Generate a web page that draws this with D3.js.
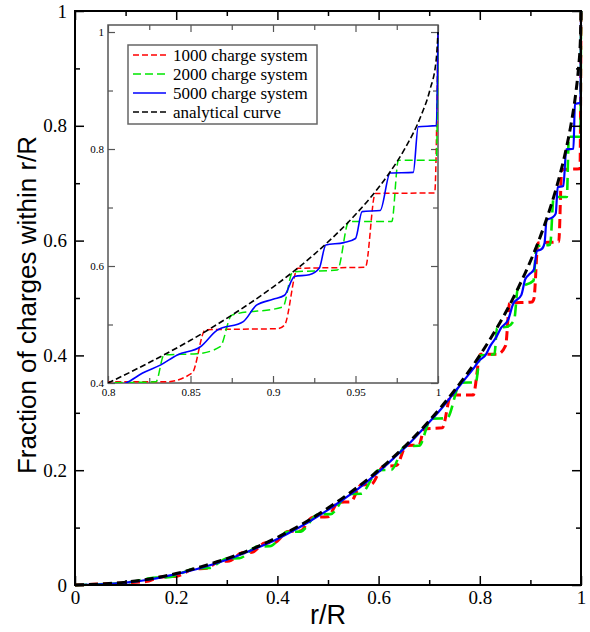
<!DOCTYPE html>
<html>
<head>
<meta charset="utf-8">
<script src="https://cdn.jsdelivr.net/npm/d3@7"></script>
<style>
  body { margin: 0; background: #fff; }
  svg { display: block; }
</style>
</head>
<body>
<svg class="d3" width="590" height="632"></svg>
<script>
// series (x = r/R, y = fraction of charges)
const r1000 = [0, 0.1, 0.14, 0.17, 0.2, 0.235, 0.26, 0.285, 0.305, 0.33, 0.35, 0.375, 0.395, 0.42, 0.445, 0.47, 0.50, 0.52, 0.545, 0.565, 0.585, 0.61, 0.635, 0.655, 0.68, 0.69, 0.726, 0.743, 0.787, 0.801, 0.835, 0.851, 0.859, 0.903, 0.907, 0.915, 0.956, 0.962, 0.998, 1.0];
const f1000 = [0, 0.004, 0.006, 0.014, 0.015, 0.028, 0.029, 0.041, 0.042, 0.056, 0.057, 0.073, 0.074, 0.093, 0.094, 0.118, 0.119, 0.144, 0.145, 0.174, 0.175, 0.207, 0.208, 0.243, 0.244, 0.272, 0.274, 0.331, 0.331, 0.402, 0.402, 0.417, 0.491, 0.493, 0.499, 0.596, 0.598, 0.724, 0.725, 1.0];

const r2000 = [0, 0.1, 0.16, 0.185, 0.24, 0.265, 0.30, 0.325, 0.36, 0.385, 0.42, 0.445, 0.48, 0.505, 0.54, 0.565, 0.60, 0.625, 0.652, 0.68, 0.704, 0.735, 0.762, 0.792, 0.801, 0.829, 0.834, 0.854, 0.868, 0.875, 0.906, 0.912, 0.939, 0.946, 0.972, 0.976, 0.999, 1.0];
const f2000 = [0, 0.004, 0.0129, 0.0135, 0.0292, 0.0297, 0.046, 0.0466, 0.067, 0.0676, 0.0925, 0.093, 0.1228, 0.1235, 0.1583, 0.159, 0.200, 0.2005, 0.2418, 0.2425, 0.2898, 0.2905, 0.3524, 0.353, 0.400, 0.402, 0.448, 0.450, 0.462, 0.516, 0.530, 0.590, 0.593, 0.676, 0.676, 0.781, 0.781, 1.0];

const r5000 = [0, 0.05, 0.1, 0.15, 0.2, 0.25, 0.3, 0.35, 0.4, 0.43, 0.46, 0.5, 0.53, 0.56, 0.6, 0.63, 0.66, 0.69, 0.72, 0.745, 0.77, 0.79, 0.80, 0.811, 0.821, 0.832, 0.842, 0.856, 0.866, 0.882, 0.89, 0.9, 0.907, 0.913, 0.922, 0.928, 0.932, 0.943, 0.95, 0.954, 0.965, 0.971, 0.985, 0.988, 0.999, 1.0];
const f5000 = [0, 0.001, 0.004, 0.010, 0.019, 0.030, 0.044, 0.061, 0.080, 0.094, 0.109, 0.131, 0.149, 0.168, 0.197, 0.221, 0.246, 0.274, 0.303, 0.330, 0.358, 0.380, 0.392, 0.400, 0.417, 0.431, 0.448, 0.462, 0.490, 0.505, 0.533, 0.543, 0.550, 0.582, 0.585, 0.596, 0.636, 0.640, 0.647, 0.693, 0.695, 0.759, 0.760, 0.838, 0.840, 1.0];

const rExact = [0, 0.1, 0.15, 0.2, 0.25, 0.3, 0.4, 0.5, 0.6, 0.65, 0.7, 0.75, 0.8, 0.825, 0.85, 0.875, 0.9, 0.925, 0.95, 0.96, 0.97, 0.98, 0.99, 0.995, 0.999, 1];
const fExact = [0, 0.005, 0.011, 0.020, 0.032, 0.046, 0.083, 0.134, 0.200, 0.240, 0.286, 0.339, 0.400, 0.435, 0.473, 0.516, 0.564, 0.620, 0.688, 0.720, 0.757, 0.801, 0.859, 0.900, 0.955, 1.0];

const seriesNames = ["1000 charge system", "2000 charge system", "5000 charge system", "analytical curve"];
const seriesColors = ["#ff0000", "#00e600", "#0000ff", "#000000"];

// tick values and labels
const mainMajor = [0, 0.2, 0.4, 0.6, 0.8, 1];
const mainMajorLabels = ["0", "0.2", "0.4", "0.6", "0.8", "1"];
const mainMinor = [0.1, 0.3, 0.5, 0.7, 0.9];
const insetXMajor = [0.8, 0.85, 0.9, 0.95, 1];
const insetXLabels = ["0.8", "0.85", "0.9", "0.95", "1"];
const insetXMinor = [0.825, 0.875, 0.925, 0.975];
const insetYMajor = [0.4, 0.6, 0.8, 1];
const insetYLabels = ["0.4", "0.6", "0.8", "1"];
const insetYMinor = [0.5, 0.7, 0.9];

const svg = d3.select("svg.d3");
const serif = "'Liberation Serif', 'Times New Roman', serif";
const sans = "'Liberation Sans', Arial, sans-serif";

const series = [
  { x: r1000, y: f1000, main: { w: 3, dash: "9,5" }, inset: { w: 1.5, dash: "6,3" } },
  { x: r2000, y: f2000, main: { w: 2.6, dash: "12,6" }, inset: { w: 1.5, dash: "8,4" } },
  { x: r5000, y: f5000, main: { w: 2.2, dash: null }, inset: { w: 1.6, dash: null } },
  { x: rExact, y: fExact, main: { w: 3, dash: "9,5" }, inset: { w: 1.6, dash: "6,3" } }
];

// ---------- main plot ----------
const x = d3.scaleLinear().domain([0, 1]).range([75, 581]);
const y = d3.scaleLinear().domain([0, 1]).range([585, 11]);

function drawAxes(g, xs, ys, opt) {
  const bottom = ys.range()[0], top = ys.range()[1];
  const left = xs.range()[0], right = xs.range()[1];
  const clean = s => s.call(a => a.select(".domain").remove());
  const labels = s => s.selectAll("text")
    .style("font-family", serif).style("font-size", opt.font + "px").attr("fill", "#000");

  g.append("g").attr("transform", "translate(0," + bottom + ")")
    .call(d3.axisBottom(xs).tickValues(opt.xMajor).tickFormat((d, i) => opt.xLabels[i])
      .tickSizeInner(-opt.major).tickSizeOuter(0).tickPadding(opt.xPad))
    .call(clean).call(labels);
  g.append("g").attr("transform", "translate(0," + bottom + ")")
    .call(d3.axisBottom(xs).tickValues(opt.xMinor).tickFormat("").tickSizeInner(-opt.minor).tickSizeOuter(0))
    .call(clean);
  g.append("g").attr("transform", "translate(0," + top + ")")
    .call(d3.axisTop(xs).tickValues(opt.xMajor).tickFormat("").tickSizeInner(-opt.major).tickSizeOuter(0))
    .call(clean);
  g.append("g").attr("transform", "translate(0," + top + ")")
    .call(d3.axisTop(xs).tickValues(opt.xMinor).tickFormat("").tickSizeInner(-opt.minor).tickSizeOuter(0))
    .call(clean);

  g.append("g").attr("transform", "translate(" + left + ",0)")
    .call(d3.axisLeft(ys).tickValues(opt.yMajor).tickFormat((d, i) => opt.yLabels[i])
      .tickSizeInner(-opt.major).tickSizeOuter(0).tickPadding(opt.yPad))
    .call(clean).call(labels);
  g.append("g").attr("transform", "translate(" + left + ",0)")
    .call(d3.axisLeft(ys).tickValues(opt.yMinor).tickFormat("").tickSizeInner(-opt.minor).tickSizeOuter(0))
    .call(clean);
  g.append("g").attr("transform", "translate(" + right + ",0)")
    .call(d3.axisRight(ys).tickValues(opt.yMajor).tickFormat("").tickSizeInner(-opt.major).tickSizeOuter(0))
    .call(clean);
  g.append("g").attr("transform", "translate(" + right + ",0)")
    .call(d3.axisRight(ys).tickValues(opt.yMinor).tickFormat("").tickSizeInner(-opt.minor).tickSizeOuter(0))
    .call(clean);

  g.selectAll(".tick line").attr("stroke", opt.color).attr("stroke-width", opt.tickW);
  g.append("rect")
    .attr("x", left).attr("y", top)
    .attr("width", right - left).attr("height", bottom - top)
    .attr("fill", "none").attr("stroke", opt.color).attr("stroke-width", opt.frameW);
}

const mainG = svg.append("g");

mainG.selectAll(".main-line")
  .data(series)
  .enter().append("path")
  .attr("class", "main-line")
  .attr("fill", "none")
  .attr("stroke", (d, i) => seriesColors[i])
  .attr("stroke-width", d => d.main.w)
  .attr("stroke-dasharray", d => d.main.dash)
  .attr("d", d => d3.line().curve(d3.curveMonotoneX)
    .x(p => x(p[0])).y(p => y(p[1]))(d.x.map((v, i) => [v, d.y[i]])));

drawAxes(mainG, x, y, {
  xMajor: mainMajor, xLabels: mainMajorLabels, xMinor: mainMinor,
  yMajor: mainMajor, yLabels: mainMajorLabels, yMinor: mainMinor,
  major: 9, minor: 5, font: 19, xPad: 6, yPad: 8,
  color: "#000", tickW: 1.5, frameW: 2
});

// axis titles
svg.append("text")
  .attr("x", 328).attr("y", 624)
  .attr("text-anchor", "middle")
  .style("font-family", sans).style("font-size", "27px")
  .text("r/R");

svg.append("text")
  .attr("transform", "translate(36,305) rotate(-90)")
  .attr("text-anchor", "middle")
  .style("font-family", sans).style("font-size", "26px")
  .text("Fraction of charges within r/R");

// ---------- inset ----------
const xi = d3.scaleLinear().domain([0.8, 1]).range([108, 438]);
const yi = d3.scaleLinear().domain([0.4, 1.012]).range([383, 25]);

const inset = svg.append("g");
inset.append("rect")
  .attr("x", 108).attr("y", 25).attr("width", 330).attr("height", 358)
  .attr("fill", "#fff");

svg.append("defs").append("clipPath").attr("id", "insetClip")
  .append("rect").attr("x", 108).attr("y", 25).attr("width", 332).attr("height", 358);

drawAxes(inset, xi, yi, {
  xMajor: insetXMajor, xLabels: insetXLabels, xMinor: insetXMinor,
  yMajor: insetYMajor, yLabels: insetYLabels, yMinor: insetYMinor,
  major: 7, minor: 5, font: 11, xPad: 5, yPad: 4,
  color: "#555", tickW: 1.2, frameW: 1.5
});

inset.append("g").attr("clip-path", "url(#insetClip)")
  .selectAll(".inset-line")
  .data(series)
  .enter().append("path")
  .attr("class", "inset-line")
  .attr("fill", "none")
  .attr("stroke", (d, i) => seriesColors[i])
  .attr("stroke-width", d => d.inset.w)
  .attr("stroke-dasharray", d => d.inset.dash)
  .attr("d", d => d3.line().curve(d3.curveMonotoneX)
    .x(p => xi(p[0])).y(p => yi(p[1]))(d.x.map((v, i) => [v, d.y[i]])));

// legend
const legend = inset.append("g");
legend.append("rect")
  .attr("x", 128).attr("y", 45).attr("width", 189).attr("height", 79)
  .attr("fill", "#fff").attr("stroke", "#666").attr("stroke-width", 1.5);

const row = legend.selectAll(".row")
  .data(series)
  .enter().append("g")
  .attr("class", "row")
  .attr("transform", (d, i) => "translate(0," + (55 + i * 19) + ")");

row.append("line")
  .attr("x1", 133).attr("x2", 166)
  .attr("stroke", (d, i) => seriesColors[i])
  .attr("stroke-width", d => d.inset.w)
  .attr("stroke-dasharray", d => d.inset.dash);

row.append("text")
  .attr("x", 173).attr("dy", "0.35em")
  .style("font-family", serif).style("font-size", "17px")
  .text((d, i) => seriesNames[i]);
</script>
</body>
</html>
